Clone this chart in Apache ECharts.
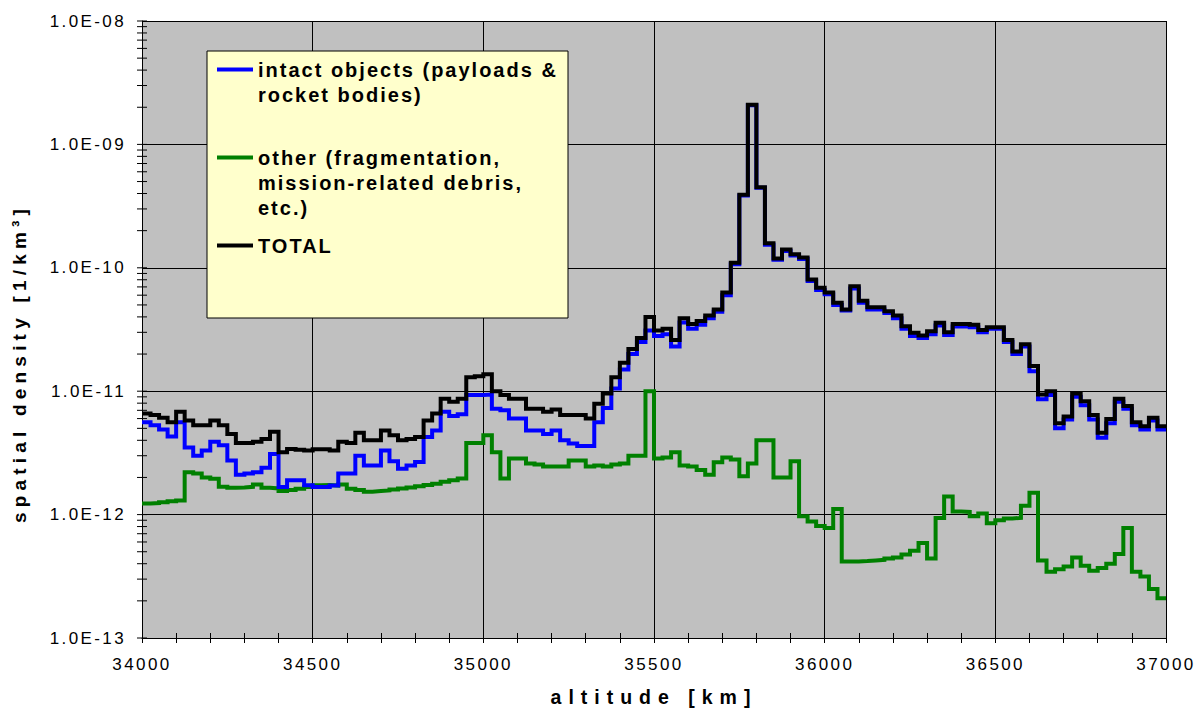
<!DOCTYPE html>
<html>
<head>
<meta charset="utf-8">
<title>spatial density vs altitude</title>
<script src="https://cdn.jsdelivr.net/npm/echarts@6/dist/echarts.min.js"></script>
<style>
  html, body { margin: 0; padding: 0; background: #ffffff; }
  #chart { width: 1195px; height: 712px; }
  /* the original chart is set with wide letter spacing */
  #chart text { letter-spacing: 2.4px; }
  #chart text[style*="20px"] { letter-spacing: 2px; }
  #chart text[style*="19px"] { letter-spacing: 5.2px; }
  #chart text[style*="19.5px"] { letter-spacing: 7px; }
</style>
</head>
<body>
<div id="chart"></div>
<script>
  // bins of 25 km from 34000 km upward
  const altStart = 34000;
  const binWidth = 25;

  const intact = [
    5.6e-12, 5.3e-12, 4.9e-12, 4.3e-12, 5.6e-12, 3.5e-12, 3.0e-12, 3.3e-12, 3.9e-12, 3.65e-12,
    2.75e-12, 2.1e-12, 2.15e-12, 2.2e-12, 2.4e-12, 3.1e-12, 1.67e-12, 1.9e-12, 1.9e-12, 1.73e-12,
    1.67e-12, 1.67e-12, 1.72e-12, 2.15e-12, 2.15e-12, 3.0e-12, 2.5e-12, 2.5e-12, 3.3e-12, 2.7e-12,
    2.35e-12, 2.5e-12, 2.67e-12, 4.25e-12, 4.8e-12, 6.8e-12, 6.3e-12, 6.5e-12, 9.3e-12, 9.3e-12,
    9.4e-12, 7.2e-12, 7.0e-12, 6.0e-12, 6.0e-12, 4.8e-12, 4.8e-12, 4.5e-12, 4.8e-12, 4.0e-12,
    3.77e-12, 3.6e-12, 3.6e-12, 5.6e-12, 7.3e-12, 1.05e-11, 1.5e-11, 2.0e-11, 2.5e-11, 3.1e-11,
    2.8e-11, 2.9e-11, 2.3e-11, 3.6e-11, 3.2e-11, 3.45e-11, 3.9e-11, 4.4e-11, 6.0e-11, 1.07e-10,
    3.85e-10, 2.08e-9, 4.45e-10, 1.54e-10, 1.16e-10, 1.37e-10, 1.26e-10, 1.18e-10, 7.8e-11, 6.6e-11,
    6.1e-11, 5.0e-11, 4.5e-11, 6.8e-11, 5.2e-11, 4.6e-11, 4.6e-11, 4.3e-11, 3.9e-11, 3.2e-11,
    2.8e-11, 2.7e-11, 2.9e-11, 3.4e-11, 2.85e-11, 3.35e-11, 3.35e-11, 3.3e-11, 3.0e-11, 3.2e-11,
    3.2e-11, 2.5e-11, 2.0e-11, 2.3e-11, 1.45e-11, 8.6e-12, 9.3e-12, 5.0e-12, 5.9e-12, 9.0e-12,
    7.7e-12, 5.9e-12, 4.2e-12, 5.5e-12, 8.2e-12, 7.2e-12, 5.3e-12, 4.9e-12, 5.8e-12, 4.9e-12
  ];

  const other = [
    1.23e-12, 1.24e-12, 1.26e-12, 1.28e-12, 1.3e-12, 2.2e-12, 2.15e-12, 2.0e-12, 1.95e-12, 1.68e-12,
    1.65e-12, 1.66e-12, 1.68e-12, 1.75e-12, 1.65e-12, 1.63e-12, 1.55e-12, 1.58e-12, 1.62e-12, 1.67e-12,
    1.73e-12, 1.74e-12, 1.72e-12, 1.75e-12, 1.62e-12, 1.58e-12, 1.53e-12, 1.55e-12, 1.57e-12, 1.6e-12,
    1.63e-12, 1.66e-12, 1.7e-12, 1.74e-12, 1.78e-12, 1.85e-12, 1.9e-12, 1.96e-12, 3.8e-12, 3.8e-12,
    4.4e-12, 3.2e-12, 1.96e-12, 2.85e-12, 2.85e-12, 2.6e-12, 2.55e-12, 2.45e-12, 2.45e-12, 2.45e-12,
    2.75e-12, 2.75e-12, 2.45e-12, 2.5e-12, 2.45e-12, 2.55e-12, 2.6e-12, 3.0e-12, 3.0e-12, 1.0e-11,
    2.85e-12, 2.9e-12, 3.2e-12, 2.5e-12, 2.45e-12, 2.3e-12, 2.1e-12, 2.65e-12, 2.9e-12, 2.8e-12,
    2.05e-12, 2.6e-12, 4.0e-12, 4.0e-12, 2.0e-12, 2.0e-12, 2.7e-12, 9.7e-13, 8.8e-13, 8.1e-13,
    7.8e-13, 1.11e-12, 4.16e-13, 4.17e-13, 4.2e-13, 4.25e-13, 4.3e-13, 4.4e-13, 4.5e-13, 4.75e-13,
    5.1e-13, 5.9e-13, 4.4e-13, 9.4e-13, 1.4e-12, 1.06e-12, 1.05e-12, 9.7e-13, 1.02e-12, 8.5e-13,
    9.0e-13, 9.3e-13, 9.4e-13, 1.18e-12, 1.5e-12, 4.24e-13, 3.45e-13, 3.6e-13, 3.8e-13, 4.5e-13,
    3.85e-13, 3.5e-13, 3.7e-13, 4.0e-13, 4.8e-13, 7.8e-13, 3.45e-13, 3.15e-13, 2.5e-13, 2.1e-13
  ];

  const total = [
    6.6e-12, 6.4e-12, 6.1e-12, 5.6e-12, 6.8e-12, 5.8e-12, 5.3e-12, 5.3e-12, 5.8e-12, 5.3e-12,
    4.5e-12, 3.8e-12, 3.8e-12, 3.9e-12, 4.1e-12, 4.7e-12, 3.2e-12, 3.4e-12, 3.35e-12, 3.3e-12,
    3.38e-12, 3.38e-12, 3.3e-12, 3.9e-12, 3.8e-12, 4.6e-12, 4.0e-12, 4.0e-12, 4.8e-12, 4.4e-12,
    4.0e-12, 4.1e-12, 4.25e-12, 5.8e-12, 6.6e-12, 8.7e-12, 8.2e-12, 8.7e-12, 1.3e-11, 1.32e-11,
    1.37e-11, 1.0e-11, 9.3e-12, 8.7e-12, 8.7e-12, 7.2e-12, 7.2e-12, 6.8e-12, 7.1e-12, 6.4e-12,
    6.4e-12, 6.4e-12, 6.0e-12, 7.9e-12, 9.6e-12, 1.3e-11, 1.7e-11, 2.2e-11, 2.7e-11, 4.0e-11,
    3.1e-11, 3.2e-11, 2.6e-11, 3.9e-11, 3.5e-11, 3.7e-11, 4.1e-11, 4.6e-11, 6.3e-11, 1.1e-10,
    3.9e-10, 2.1e-9, 4.5e-10, 1.58e-10, 1.19e-10, 1.41e-10, 1.29e-10, 1.21e-10, 8.05e-11, 6.9e-11,
    6.3e-11, 5.2e-11, 4.6e-11, 7.1e-11, 5.4e-11, 4.8e-11, 4.8e-11, 4.45e-11, 4.1e-11, 3.36e-11,
    2.97e-11, 2.83e-11, 3.06e-11, 3.58e-11, 3.0e-11, 3.5e-11, 3.5e-11, 3.45e-11, 3.14e-11, 3.3e-11,
    3.3e-11, 2.6e-11, 2.1e-11, 2.4e-11, 1.6e-11, 9.4e-12, 1.0e-11, 5.5e-12, 6.25e-12, 9.6e-12,
    8.3e-12, 6.4e-12, 4.6e-12, 5.95e-12, 8.7e-12, 7.6e-12, 5.6e-12, 5.2e-12, 6.1e-12, 5.2e-12
  ];

  const seriesNames = [
    'intact objects (payloads & rocket bodies)',
    'other (fragmentation, mission-related debris, etc.)',
    'TOTAL'
  ];
  // leading empty lines keep the first text line level with the legend line
  const legendLabels = [
    '\nintact objects (payloads &\nrocket bodies)',
    '\n\nother (fragmentation,\nmission-related debris,\netc.)',
    'TOTAL'
  ];

  // log axis ticks: decades and the 2..9 steps between them
  const yDecades = [1e-13, 1e-12, 1e-11, 1e-10, 1e-9];
  const yTickSteps = [1, 2, 3, 4, 5, 6, 7, 8, 9];

  function stepData(values) {
    const pts = values.map(function (v, i) { return [altStart + i * binWidth, v]; });
    pts.push([altStart + values.length * binWidth, values[values.length - 1]]);
    return pts;
  }

  const yTicks = [];
  yDecades.forEach(function (d) {
    yTickSteps.forEach(function (m) { yTicks.push([altStart, m * d]); });
  });
  yTicks.push([altStart, 1e-8]);

  const font = 'Liberation Sans, Arial, sans-serif';

  const chart = echarts.init(document.getElementById('chart'), null, { renderer: 'svg' });

  function legendFor(idx, top) {
    return {
      data: [seriesNames[idx]],
      left: 217,
      top: top,
      padding: 0,
      z: 20,
      selectedMode: false,
      icon: 'rect',
      itemWidth: 36,
      itemHeight: 4,
      formatter: function () { return legendLabels[idx]; },
      textStyle: {
        fontFamily: font,
        fontWeight: 'bold',
        fontSize: 20,
        color: '#000',
        lineHeight: 25
      }
    };
  }

  chart.setOption({
    animation: false,
    backgroundColor: '#ffffff',
    grid: {
      left: 142,
      right: 29,
      top: 21,
      bottom: 74,
      show: true,
      backgroundColor: '#C0C0C0',
      borderWidth: 0
    },
    graphic: [{
      type: 'rect',
      z: 10,
      shape: { x: 207, y: 51, width: 361, height: 267 },
      style: { fill: '#FFFFCC', stroke: '#000', lineWidth: 1 }
    }],
    legend: [
      legendFor(0, 32),
      legendFor(1, 95),
      legendFor(2, 233)
    ],
    xAxis: [{
      type: 'value',
      min: 34000,
      max: 37000,
      interval: 500,
      name: 'altitude [km]',
      nameLocation: 'middle',
      nameGap: 49,
      nameTextStyle: { fontFamily: font, fontWeight: 'bold', fontSize: 19.5, color: '#000' },
      axisLine: { lineStyle: { color: '#000', width: 1 } },
      axisTick: { show: true, length: 5, lineStyle: { color: '#000' } },
      minorTick: { show: true, splitNumber: 5, length: 5, lineStyle: { color: '#000' } },
      axisLabel: {
        fontFamily: font, fontSize: 17, color: '#000', margin: 18,
        formatter: function (v) { return String(v); }
      },
      splitLine: { show: true, lineStyle: { color: '#000', width: 1 } }
    }, {
      // second copy of the axis only to make the ticks cross the axis line
      type: 'value',
      position: 'bottom',
      min: 34000,
      max: 37000,
      interval: 500,
      axisLine: { show: false },
      axisTick: { show: true, inside: true, length: 5, lineStyle: { color: '#000' } },
      minorTick: { show: true, splitNumber: 5, length: 5, lineStyle: { color: '#000' } },
      axisLabel: { show: false },
      splitLine: { show: false }
    }],
    yAxis: {
      type: 'log',
      logBase: 10,
      min: 1e-13,
      max: 1e-8,
      name: 'spatial density [1/km³]',
      nameLocation: 'middle',
      nameGap: 113,
      nameRotate: 90,
      nameTextStyle: {
        fontFamily: font, fontWeight: 'bold', fontSize: 19, color: '#000',
        padding: [0, 68, 0, 0]
      },
      axisLine: { lineStyle: { color: '#000', width: 1 } },
      axisTick: { show: false },
      axisLabel: {
        fontFamily: font, fontSize: 17, color: '#000', margin: 16,
        formatter: function (v) {
          const e = Math.round(Math.log10(v));
          return '1.0E-' + String(-e).padStart(2, '0');
        }
      },
      splitLine: { show: true, lineStyle: { color: '#000', width: 1 } }
    },
    series: [
      {
        name: seriesNames[1],
        type: 'line',
        step: 'end',
        showSymbol: false,
        color: '#008000',
        lineStyle: { color: '#008000', width: 4, join: 'miter' },
        data: stepData(other),
        z: 3
      },
      {
        name: seriesNames[0],
        type: 'line',
        step: 'end',
        showSymbol: false,
        color: '#0000FF',
        lineStyle: { color: '#0000FF', width: 4, join: 'miter' },
        data: stepData(intact),
        z: 4
      },
      {
        name: seriesNames[2],
        type: 'line',
        step: 'end',
        showSymbol: false,
        color: '#000000',
        lineStyle: { color: '#000000', width: 4, join: 'miter' },
        data: stepData(total),
        z: 5
      },
      {
        // crossing ticks of the log axis
        type: 'custom',
        silent: true,
        clip: false,
        z: 6,
        data: yTicks,
        renderItem: function (params, api) {
          const p = api.coord([api.value(0), api.value(1)]);
          return {
            type: 'line',
            shape: { x1: p[0] - 5, y1: p[1], x2: p[0] + 5, y2: p[1] },
            style: { stroke: '#000', lineWidth: 1 }
          };
        }
      }
    ]
  });
</script>
</body>
</html>
